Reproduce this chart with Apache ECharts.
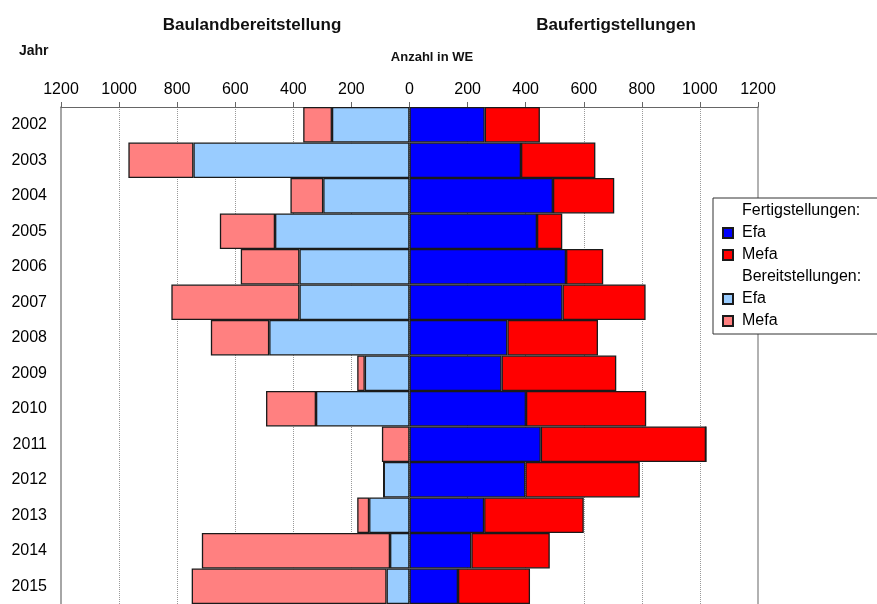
<!DOCTYPE html>
<html>
<head>
<meta charset="utf-8">
<script src="https://cdn.jsdelivr.net/npm/echarts@6/dist/echarts.min.js"></script>
<style>html,body{margin:0;padding:0;background:#fff;}#c{width:877px;height:604px;}</style>
</head>
<body>
<div id="c"></div>
<script>
var years = ['2002','2003','2004','2005','2006','2007','2008','2009','2010','2011','2012','2013','2014','2015'];
// Baufertigstellungen (right side)
var fertigEfa  = [259, 384, 494, 439, 539, 527, 337, 317, 401, 452, 399, 257, 213, 167];
var fertigMefa = [190, 256, 211,  87, 128, 286, 312, 395, 414, 569, 394, 343, 270, 248];
// Baulandbereitstellung (left side)
var bereitEfa  = [267, 744, 297, 463, 379, 379, 483, 154, 322,   0,  89, 139,  67,  79];
var bereitMefa = [ 99, 224, 113, 190, 202, 441, 201,  26, 172,  95,   0,  41, 648, 671];
var tickLabels = ['1200','1000','800','600','400','200','0','200','400','600','800','1000','1200'];

var FONT = 'Liberation Sans, Arial, sans-serif';
var neg = function(a){ return a.map(function(v){ return -v; }); };
var border = {borderColor:'#1a1a1a', borderWidth:1.3};

var chart = echarts.init(document.getElementById('c'));
chart.setOption({
  animation:false,
  backgroundColor:'#fff',
  textStyle:{fontFamily:FONT, color:'#000'},
  title:[
    {text:'Baulandbereitstellung', left:247, top:12, textAlign:'center', textStyle:{fontSize:17, fontWeight:'bold', fontFamily:FONT, color:'#111'}},
    {text:'Baufertigstellungen', left:611, top:12, textAlign:'center', textStyle:{fontSize:17, fontWeight:'bold', fontFamily:FONT, color:'#111'}},
    {text:'Jahr', left:14, top:39, textStyle:{fontSize:14, fontWeight:'bold', fontFamily:FONT, color:'#111'}},
    {text:'Anzahl in WE', left:427, top:46, textAlign:'center', textStyle:{fontSize:13, fontWeight:'bold', fontFamily:FONT, color:'#111'}}
  ],
  legend:{
    orient:'vertical', left:713, top:198,
    backgroundColor:'#fff', borderColor:'#333', borderWidth:1,
    padding:[5,30,5,9], itemWidth:10, itemHeight:10, itemGap:6,
    selectedMode:false, icon:'rect',
    textStyle:{fontSize:16, fontFamily:FONT, color:'#000', padding:[0,0,0,4]},
    formatter:function(n){ return n.replace(/^[FB]_/, ''); },
    data:[{name:'Fertigstellungen:', icon:'none'}, {name:'F_Efa', icon:'rect'}, {name:'F_Mefa', icon:'rect'}, {name:'Bereitstellungen:', icon:'none'}, {name:'B_Efa', icon:'rect'}, {name:'B_Mefa', icon:'rect'}]
  },
  grid:{left:61, top:107, width:697, height:503, containLabel:false},
  xAxis:{
    type:'value', position:'top', min:-1200, max:1200, interval:200,
    axisLine:{show:true, lineStyle:{color:'#666', width:1.2}},
    axisTick:{show:true, length:5, lineStyle:{color:'#666'}},
    axisLabel:{fontSize:16, fontFamily:FONT, color:'#000', margin:9,
      formatter:function(v){ var i = Math.round((v+1200)/200); return tickLabels[i]; }},
    splitLine:{show:true, showMinLine:false, showMaxLine:false, lineStyle:{color:'#999', type:'dotted', width:1}}
  },
  yAxis:[
    {type:'category', data:years, inverse:true, position:'left',
     axisLine:{show:true, onZero:false, lineStyle:{color:'#888', width:1.5}}, axisTick:{show:false},
     axisLabel:{fontSize:16, fontFamily:FONT, color:'#000', margin:14}},
    {type:'category', data:years, inverse:true, position:'right',
     axisLine:{show:true, onZero:false, lineStyle:{color:'#999', width:1.5}}, axisTick:{show:false}, axisLabel:{show:false}}
  ],
  series:[
    {name:'F_Efa', type:'bar', stack:'all', data:fertigEfa, barCategoryGap:'0%', itemStyle:Object.assign({color:'#0000FF'}, border)},
    {name:'F_Mefa', type:'bar', stack:'all', data:fertigMefa, itemStyle:Object.assign({color:'#FF0000'}, border)},
    {name:'B_Efa', type:'bar', stack:'all', data:neg(bereitEfa), itemStyle:Object.assign({color:'#99CCFF'}, border)},
    {name:'B_Mefa', type:'bar', stack:'all', data:neg(bereitMefa), itemStyle:Object.assign({color:'#FF8080'}, border)},
    {name:'Fertigstellungen:', type:'line', data:[]},
    {name:'Bereitstellungen:', type:'line', data:[]}
  ]
});
</script>
</body>
</html>
